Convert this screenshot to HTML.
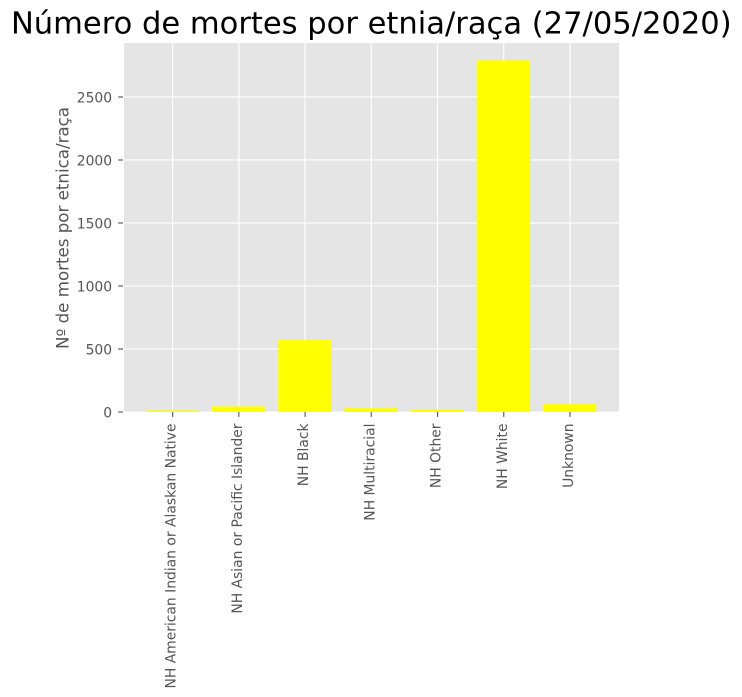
<!DOCTYPE html>
<html lang="pt">
<head>
<meta charset="utf-8">
<title>Número de mortes por etnia/raça</title>
<style>
html,body{margin:0;padding:0;background:#fff;width:742px;height:697px;overflow:hidden}
svg{display:block;font-family:"DejaVu Sans","Liberation Sans",sans-serif}
</style>
</head>
<body>
<svg id="chart" xmlns="http://www.w3.org/2000/svg" width="742" height="697" viewBox="0 0 742 697">
<rect x="0" y="0" width="742" height="697" fill="#ffffff"/>
<rect x="124" y="43" width="495" height="369" fill="#e5e5e5"/>
<g id="grid"></g>
<g id="bars"></g>
<g id="xaxis"></g>
<g id="yaxis"></g>
<text transform="translate(68.5 228) rotate(-90)" text-anchor="middle" font-size="16.67" fill="#555555">Nº de mortes por etnica/raça</text>
<text x="371.3" y="33.7" text-anchor="middle" font-size="30.56" fill="#000000">Número de mortes por etnia/raça (27/05/2020)</text>
</svg>
<script>
const categories = ["NH American Indian or Alaskan Native", "NH Asian or Pacific Islander", "NH Black", "NH Multiracial", "NH Other", "NH White", "Unknown"];
const deaths = [10, 42, 570, 28, 16, 2789, 61];
const yTicks = [0, 500, 1000, 1500, 2000, 2500];

const NS = "http://www.w3.org/2000/svg";
const plot = { left: 123.6, right: 619, top: 43, bottom: 412 };
const barWidth = 0.8;

const maxValue = Math.max(...deaths);
const xMin = -barWidth / 2 - 0.05 * (categories.length - 1 + barWidth);
const xMax = categories.length - 1 + barWidth / 2 + 0.05 * (categories.length - 1 + barWidth);
const yMax = maxValue * 1.05;

function xScale(v) {
  return plot.left + (v - xMin) / (xMax - xMin) * (plot.right - plot.left);
}
function yScale(v) {
  return plot.bottom - v / yMax * (plot.bottom - plot.top);
}
function make(tag, attrs, parent) {
  const el = document.createElementNS(NS, tag);
  for (const k in attrs) el.setAttribute(k, attrs[k]);
  parent.appendChild(el);
  return el;
}

const grid = document.getElementById("grid");
const bars = document.getElementById("bars");
const xaxis = document.getElementById("xaxis");
const yaxis = document.getElementById("yaxis");

yTicks.forEach(function (t) {
  const y = yScale(t);
  const line = make("line", { x1: plot.left, x2: plot.right, y1: y, y2: y, stroke: "#ffffff", "stroke-width": 1.11 }, grid);
  
  
  const tick = make("line", { x1: plot.left - 5.4, x2: plot.left - 0.6, y1: y, y2: y, stroke: "#555555", "stroke-width": 1.11 }, yaxis);
  
  
  const label = make("text", { x: plot.left - 11.5, y: y, dy: "0.38em", "text-anchor": "end", "font-size": 13.89, fill: "#555555" }, yaxis);
  
  
  label.textContent = String(t);
});

categories.forEach(function (c, i) {
  const x = xScale(i);
  const line = make("line", { x1: x, x2: x, y1: plot.top, y2: plot.bottom, stroke: "#ffffff", "stroke-width": 1.11 }, grid);
  
  
  const top = yScale(deaths[i]);
  const bar = make("rect", { x: xScale(i - barWidth / 2), y: top, width: xScale(i + barWidth / 2) - xScale(i - barWidth / 2), height: plot.bottom - top, fill: "#ffff00" }, bars);
  
  
  const tick = make("line", { x1: x, x2: x, y1: plot.bottom, y2: plot.bottom + 4.86, stroke: "#555555", "stroke-width": 1.11 }, xaxis);
  
  
  const label = make("text", { transform: "translate(" + x + " " + (plot.bottom + 11.5) + ") rotate(-90)", dy: "0.22em", "text-anchor": "end", "font-size": 13.89, fill: "#555555" }, xaxis);
  
  
  label.textContent = c;
});
</script>
</body>
</html>
